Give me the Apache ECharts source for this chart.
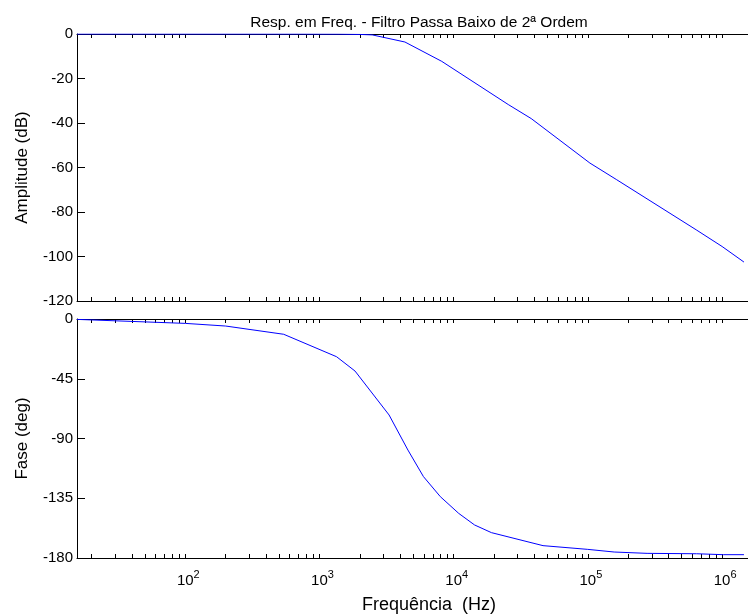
<!DOCTYPE html>
<html><head><meta charset="utf-8">
<script src="https://cdn.jsdelivr.net/npm/echarts@6/dist/echarts.min.js"></script>
<style>html,body{margin:0;padding:0;background:#fff}#c{width:748px;height:616px}</style>
</head><body><div id="c"></div>
<script>
const chartTitle = 'Resp. em Freq. - Filtro Passa Baixo de 2ª Ordem';
const xAxisTitle = 'Frequência  (Hz)';
const magAxisTitle = 'Amplitude (dB)';
const phaseAxisTitle = 'Fase (deg)';

const magFreqHz = [15.6, 700, 1400, 2000, 2470, 4330, 8150, 25500, 37800, 103500, 164000, 641000, 1000000, 1455000];
const magDb     = [0, 0, -0.05, -0.2, -0.4, -3.6, -12.3, -31.7, -38, -58, -65.5, -88, -95.5, -102.5];

const phaseFreqHz = [15.6, 100, 200, 541, 1340, 1840, 3300, 4560, 5950, 7950, 10900, 14300, 19100, 46300, 99700, 157000, 276000, 646000, 1020000, 1455000];
const phaseDeg    = [-0.3, -3.3, -5.3, -11.5, -28.4, -39.2, -72.3, -98.7, -118.7, -133.8, -146.4, -155.1, -160.9, -170.7, -173.5, -175.5, -176.5, -176.8, -177.5, -177.5];

const decadeExponents = [2, 3, 4, 5, 6];
const magTicks = [0, -20, -40, -60, -80, -100, -120];
const phaseTicks = [0, -45, -90, -135, -180];
const xLogMin = 1.193, xLogMax = 6.193;

const tickPositions = [];
for (let n = 1; n <= 6; n++) {
  for (let k = 1; k <= 9; k++) {
    const v = Math.log10(k * Math.pow(10, n));
    if (v > xLogMin && v < xLogMax) tickPositions.push(v);
  }
}

const FONT = 'Liberation Sans, Arial, Helvetica, sans-serif';
const black = '#000';

function xAx(gridIndex, position, withLabels) {
  return {
    type: 'value', gridIndex, position, min: xLogMin, max: xLogMax,
    axisLine: { show: true, onZero: false, lineStyle: { color: black, width: 1 } },
    axisTick: { show: true, inside: true, length: 4, customValues: tickPositions, lineStyle: { color: black } },
    axisLabel: withLabels ? {
      show: true, customValues: decadeExponents, margin: 11,
      formatter: v => '{b|10}{e|' + Math.round(v) + '}',
      rich: {
        b: { fontSize: 15, fontFamily: FONT, color: black, padding: [0, 0, 0, 6] },
        e: { fontSize: 11, fontFamily: FONT, color: black, padding: [0, 0, 12, 0] }
      }
    } : { show: false },
    splitLine: { show: false },
    name: withLabels ? xAxisTitle : '',
    nameLocation: 'middle', nameGap: 38,
    nameTextStyle: { fontSize: 18, fontFamily: FONT, color: black, padding: [0, 0, 0, 33] }
  };
}

function yAx(gridIndex, min, interval, name) {
  return {
    type: 'value', gridIndex, min, max: 0, interval, position: 'left',
    axisLine: { show: true, onZero: false, lineStyle: { color: black, width: 1 } },
    axisTick: { show: true, inside: true, length: 8, lineStyle: { color: black } },
    axisLabel: { fontSize: 15, fontFamily: FONT, color: black, margin: 4 },
    splitLine: { show: false },
    name, nameLocation: 'middle', nameGap: 46, nameRotate: 90,
    nameTextStyle: { fontSize: 17, fontFamily: FONT, color: black }
  };
}

const chart = echarts.init(document.getElementById('c'), null, { renderer: 'canvas' });
chart.setOption({
  animation: false,
  backgroundColor: '#fff',
  title: {
    text: chartTitle, left: 414, top: 10, textAlign: 'center',
    textStyle: { fontSize: 15.5, fontWeight: 'normal', fontFamily: FONT, color: black }
  },
  grid: [
    { left: 77, top: 34, width: 675, height: 267 },
    { left: 77, top: 319, width: 675, height: 239 }
  ],
  xAxis: [
    xAx(0, 'bottom', false), xAx(0, 'top', false),
    xAx(1, 'bottom', true), xAx(1, 'top', false)
  ],
  yAxis: [
    yAx(0, -120, 20, magAxisTitle),
    yAx(1, -180, 45, phaseAxisTitle)
  ],
  series: [
    {
      type: 'line', xAxisIndex: 0, yAxisIndex: 0, showSymbol: false, clip: true,
      lineStyle: { color: '#0000ff', width: 1 }, itemStyle: { color: '#0000ff' },
      data: magFreqHz.map((f, i) => [Math.log10(f), magDb[i]])
    },
    {
      type: 'line', xAxisIndex: 2, yAxisIndex: 1, showSymbol: false, clip: true,
      lineStyle: { color: '#0000ff', width: 1 }, itemStyle: { color: '#0000ff' },
      data: phaseFreqHz.map((f, i) => [Math.log10(f), phaseDeg[i]])
    }
  ]
});
</script>
</body></html>
